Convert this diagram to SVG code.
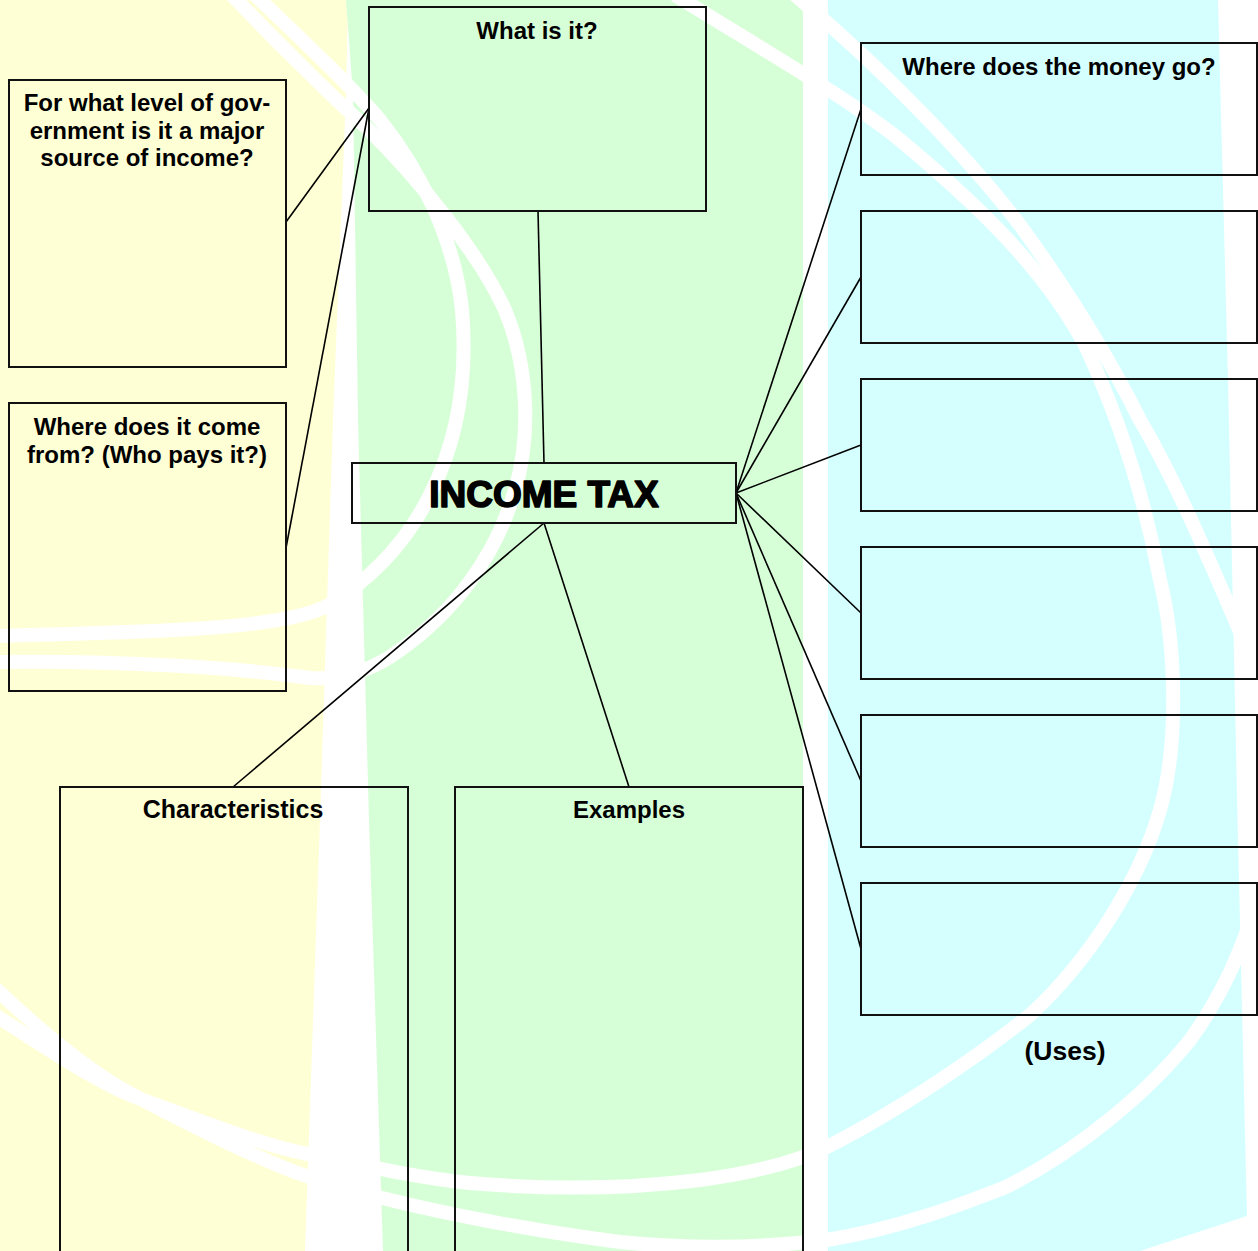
<svg xmlns="http://www.w3.org/2000/svg" width="1258" height="1251" viewBox="0 0 1258 1251">
  <style>
    .swoosh { fill: none; stroke: #ffffff; stroke-width: 14; stroke-linecap: butt; stroke-linejoin: round; }
    .box { fill: none; stroke: #111111; stroke-width: 2; }
    .link { stroke: #000000; stroke-width: 1.6; fill: none; }
    .label { font-family: "Liberation Sans", Arial, sans-serif; font-weight: bold; font-size: 24px; fill: #000000; text-anchor: middle; }
    .title { font-family: "Liberation Sans", Arial, sans-serif; font-weight: bold; font-size: 37px; fill: #000000; stroke: #000000; stroke-width: 1.6; stroke-linejoin: round; text-anchor: middle; }
  </style>

  <!-- page background: three tinted columns separated by white gaps -->
  <g id="background">
    <rect x="0" y="0" width="1258" height="1251" fill="#ffffff"/>
    <path d="M0,0 L348,0 L346,95 L333,420 L320,820 L305,1251 L0,1251 Z" fill="#ffffd6"/>
    <path d="M346,0 L803,0 L803,1251 L383,1251 L369,820 L358,420 L353,95 Z" fill="#d7ffd7"/>
    <path d="M828,0 L1218,0 L1228,380 L1238,840 L1247,1216 L1140,1251 L828,1251 Z" fill="#d5ffff"/>
  </g>

  <!-- white brush strokes sweeping across the columns -->
  <g id="swooshes">
    <path class="swoosh" stroke-width="13" d="M255,-5 C300,38 350,85 380,120 C420,170 455,240 462,310 C468,380 458,440 430,495 C405,545 370,580 327,606 C280,630 150,632 -5,636"/>
    <path class="swoosh" stroke-width="14" d="M232,-5 C270,35 330,95 367,128 C420,180 480,255 505,310 C530,370 530,440 515,490 C495,560 450,615 400,650 C370,672 340,680 310,678 C240,668 120,660 -5,662"/>
    <path class="swoosh" stroke-width="15" d="M-5,1015 C50,1050 100,1085 143,1100 C200,1120 260,1145 308,1154 C360,1165 420,1178 470,1183 C540,1189 620,1190 700,1180 C760,1172 800,1160 827,1147 C900,1110 980,1055 1030,1015 C1090,960 1140,880 1160,810 C1180,740 1175,640 1160,580 C1145,500 1120,420 1085,345 C1040,260 960,190 900,140 C850,100 780,60 675,-5"/>
    <path class="swoosh" stroke-width="15" d="M-5,988 C50,1040 100,1080 143,1100 C200,1130 260,1160 306,1176 C340,1187 360,1193 382,1198 C450,1215 540,1232 620,1242 C700,1250 770,1247 827,1240 C900,1228 960,1205 1006,1187 C1080,1150 1150,1090 1190,1040 C1230,985 1250,930 1262,880 C1290,760 1265,690 1235,620 C1205,550 1175,480 1140,420 C1105,350 1060,280 1020,225 C970,160 890,75 795,-5"/>
  </g>

  <!-- connectors -->
  <g id="connectors">
    <line class="link" x1="369" y1="108" x2="286" y2="222"/>
    <line class="link" x1="369" y1="108" x2="286" y2="548"/>
    <line class="link" x1="538" y1="211" x2="544" y2="463"/>
    <line class="link" x1="544" y1="523" x2="233" y2="787"/>
    <line class="link" x1="544" y1="523" x2="629" y2="787"/>
    <line class="link" x1="736" y1="493" x2="861" y2="109"/>
    <line class="link" x1="736" y1="493" x2="861" y2="277"/>
    <line class="link" x1="736" y1="493" x2="861" y2="445"/>
    <line class="link" x1="736" y1="493" x2="861" y2="613"/>
    <line class="link" x1="736" y1="493" x2="861" y2="781"/>
    <line class="link" x1="736" y1="493" x2="861" y2="949"/>
  </g>

  <!-- nodes -->
  <g id="node-level">
    <rect class="box" x="9" y="80" width="277" height="287"/>
    <text class="label" x="147" y="111">For what level of gov-</text>
    <text class="label" x="147" y="138.5">ernment is it a major</text>
    <text class="label" x="147" y="166">source of income?</text>
  </g>

  <g id="node-source">
    <rect class="box" x="9" y="403" width="277" height="288"/>
    <text class="label" x="147" y="435">Where does it come</text>
    <text class="label" x="147" y="463">from? (Who pays it?)</text>
  </g>

  <g id="node-what">
    <rect class="box" x="369" y="7" width="337" height="204"/>
    <text class="label" x="537" y="39">What is it?</text>
  </g>

  <g id="node-income-tax">
    <rect class="box" x="352" y="463" width="384" height="60"/>
    <text class="title" x="544" y="507">INCOME TAX</text>
  </g>

  <g id="node-characteristics">
    <rect class="box" x="60" y="787" width="348" height="480"/>
    <text class="label" x="233" y="818" style="font-size:25px">Characteristics</text>
  </g>

  <g id="node-examples">
    <rect class="box" x="455" y="787" width="348" height="480"/>
    <text class="label" x="629" y="818">Examples</text>
  </g>

  <g id="node-use-1">
    <rect class="box" x="861" y="43" width="396" height="132"/>
    <text class="label" x="1059" y="75">Where does the money go?</text>
  </g>
  <g id="node-use-2">
    <rect class="box" x="861" y="211" width="396" height="132"/>
  </g>
  <g id="node-use-3">
    <rect class="box" x="861" y="379" width="396" height="132"/>
  </g>
  <g id="node-use-4">
    <rect class="box" x="861" y="547" width="396" height="132"/>
  </g>
  <g id="node-use-5">
    <rect class="box" x="861" y="715" width="396" height="132"/>
  </g>
  <g id="node-use-6">
    <rect class="box" x="861" y="883" width="396" height="132"/>
  </g>

  <g id="uses-caption">
    <text class="label" x="1065" y="1060" style="font-size:26.5px">(Uses)</text>
  </g>
</svg>
